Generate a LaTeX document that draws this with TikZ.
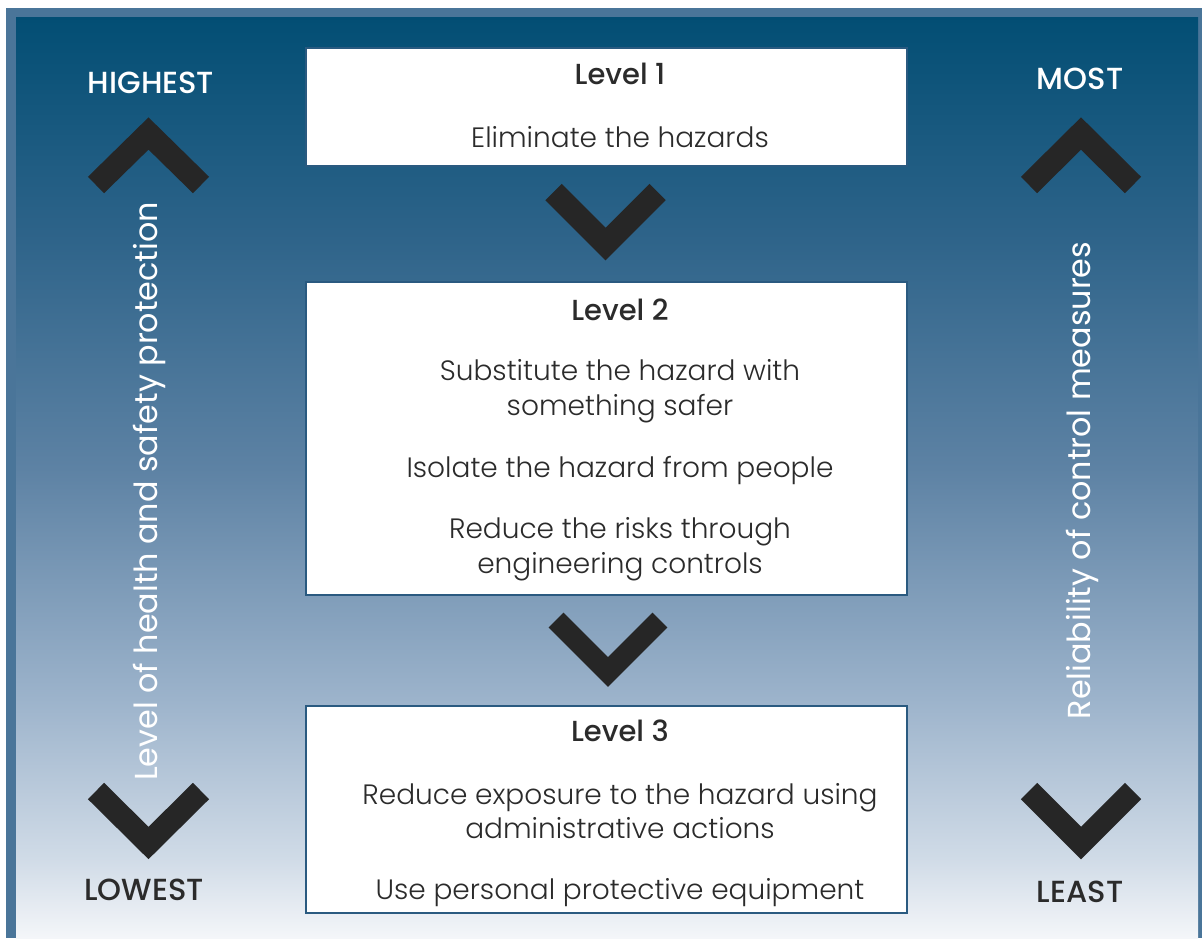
\documentclass[tikz,border=0pt]{standalone}
\usepackage{fontspec}
\IfFontExistsTF{Poppins Light}{\setmainfont{Poppins Light}[BoldFont=Poppins Medium]}{\setmainfont{Poppins}}
\newfontfamily\popreg{Poppins}
\definecolor{framec}{HTML}{4A7599}
\definecolor{boxline}{HTML}{2A5A80}
\definecolor{chevc}{HTML}{262626}
\definecolor{txt}{HTML}{2B2B2B}
\definecolor{g1}{HTML}{024E74}
\definecolor{g2}{HTML}{2D6389}
\definecolor{g3}{HTML}{5D82A4}
\definecolor{g4}{HTML}{9CB3CB}
\definecolor{g5}{HTML}{D0DBE7}
\definecolor{g6}{HTML}{F4F6F9}
% path box maps to 25bp..75bp; y=17 -> 75bp, y=938 -> 25bp
\pgfdeclareverticalshading{bgshade}{100bp}{color(0bp)=(g6); color(25bp)=(g6); color(29.3bp)=(g5); color(38bp)=(g4); color(50.5bp)=(g3); color(63.3bp)=(g2); color(75bp)=(g1); color(100bp)=(g1)}
\tikzset{
  box/.style={draw=boxline, line width=1.3pt, fill=white, inner sep=0pt},
  chev/.style={draw=chevc, line width=23pt, line join=miter, line cap=butt},
  head/.style={font=\bfseries\fontsize{29}{32}\selectfont, text=txt, anchor=base, inner sep=0pt},
  body/.style={font=\fontsize{28}{32}\selectfont, text=txt, anchor=base, inner sep=0pt},
  sidew/.style={font=\bfseries\fontsize{30.5}{34}\selectfont, text=white, anchor=base, inner sep=0pt},
  sided/.style={font=\bfseries\fontsize{30.5}{34}\selectfont, text=txt, anchor=base, inner sep=0pt},
  vert/.style={font=\popreg\fontsize{31.8}{34}\selectfont, text=white, rotate=90, inner sep=0pt},
}
\begin{document}
\begin{tikzpicture}[x=1pt,y=-1pt]
\useasboundingbox (0,0) rectangle (1202,938);
\fill[white] (0,0) rectangle (1202,938);
\fill[framec] (6,8) rectangle (1202,938);
\shade[shading=bgshade] (16,17) rectangle (1198,938);
% boxes
\node[box, minimum width=601pt, minimum height=118pt] (b1) at (606.5,107) {};
\node[box, minimum width=601pt, minimum height=313pt] (b2) at (606.5,438.5) {};
\node[box, minimum width=601pt, minimum height=207pt] (b3) at (606.5,809.5) {};
% box texts
\node[head] (l1) at (620,84) {Level 1};
\node[body] (t11) at (620,147) {Eliminate the hazards};
\node[head] (l2) at (620,320) {Level 2};
\node[body] (t21) at (620,380) {Substitute the hazard with};
\node[body] (t22) at (620,415) {something safer};
\node[body] (t23) at (620,477) {Isolate the hazard from people};
\node[body] (t24) at (620,538) {Reduce the risks through};
\node[body] (t25) at (620,573) {engineering controls};
\node[head] (l3) at (620,741) {Level 3};
\node[body] (t31) at (620,804) {Reduce exposure to the hazard using};
\node[body] (t32) at (620,838) {administrative actions};
\node[body] (t33) at (620,899) {Use personal protective equipment};
% middle chevrons
\draw[chev] (553.5,192) -- (605.5,244) -- (657.5,192);
\draw[chev,line width=21pt] (556,620) -- (608,672) -- (660,620);
% side chevrons
\draw[chev] (96,185) -- (148.5,133.5) -- (201,185);
\draw[chev] (96,791) -- (148.5,843) -- (201,791);
\draw[chev] (1029,185) -- (1081,133.5) -- (1133,185);
\draw[chev] (1029,791) -- (1081,843) -- (1133,791);
% side labels
\node[sidew] (hi) at (151,93) {HIGHEST};
\node[sided] (lo) at (144,900) {LOWEST};
\node[sidew] (mo) at (1080,89) {MOST};
\node[sided] (le) at (1080,902) {LEAST};
\node[vert] (vl) at (149,491.5) {Level of health and safety protection};
\node[vert] (vr) at (1082,480.5) {Reliability of control measures};
\end{tikzpicture}
\end{document}
